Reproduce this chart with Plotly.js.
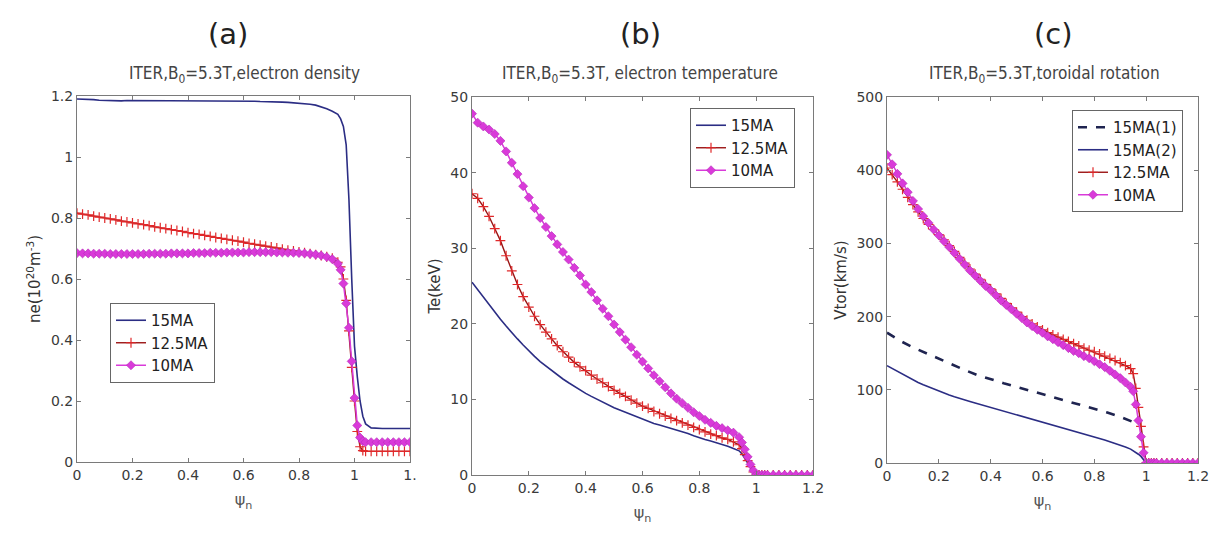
<!DOCTYPE html>
<html>
<head>
<meta charset="utf-8">
<script src="https://cdn.plot.ly/plotly-3.0.1.min.js"></script>
<style>html,body{margin:0;padding:0;background:#fff;}#chart{width:1217px;height:533px;}</style>
</head>
<body>
<div id="chart"></div>
<script>
// ---- shared normalized flux coordinate ----
const psi = [0,0.02,0.04,0.06,0.08,0.10,0.12,0.14,0.16,0.18,
             0.20,0.22,0.24,0.26,0.28,0.30,0.32,0.34,0.36,0.38,
             0.40,0.42,0.44,0.46,0.48,0.50,0.52,0.54,0.56,0.58,
             0.60,0.62,0.64,0.66,0.68,0.70,0.72,0.74,0.76,0.78,
             0.80,0.82,0.84,0.86,0.88,0.90,0.92,0.94,
             0.95,0.96,0.97,0.98,0.99,1.00,1.01,1.02,1.03,1.04,
             1.06,1.08,1.10,1.12,1.14,1.16,1.18,1.20];

// ---- (a) electron density, 10^20 m^-3 ----
const ne15 = [1.19,1.19,1.189,1.188,1.186,1.185,1.184,1.184,1.184,1.185,
              1.185,1.185,1.184,1.184,1.183,1.183,1.183,1.183,1.183,1.184,
              1.184,1.184,1.183,1.183,1.183,1.183,1.184,1.184,1.184,1.184,
              1.184,1.183,1.183,1.182,1.182,1.181,1.180,1.180,1.179,1.178,
              1.177,1.175,1.173,1.170,1.165,1.158,1.150,1.140,
              1.125,1.10,1.04,0.86,0.60,0.38,0.28,0.20,0.15,0.125,
              0.112,0.11,0.11,0.11,0.11,0.11,0.11,0.11];
const ne125 = [0.816,0.813,0.810,0.806,0.803,0.800,0.797,0.794,0.790,0.787,
               0.784,0.781,0.778,0.775,0.771,0.768,0.765,0.762,0.759,0.756,
               0.752,0.749,0.746,0.743,0.740,0.736,0.733,0.730,0.727,0.724,
               0.721,0.717,0.714,0.711,0.708,0.705,0.702,0.698,0.695,0.692,
               0.689,0.686,0.683,0.680,0.677,0.673,0.668,0.655,
               0.640,0.600,0.530,0.430,0.310,0.200,0.100,0.050,0.037,0.035,
               0.035,0.035,0.035,0.035,0.035,0.035,0.035,0.035];
const ne10 = [0.685,0.684,0.684,0.683,0.683,0.683,0.682,0.682,0.682,0.682,
              0.682,0.682,0.682,0.683,0.683,0.683,0.683,0.684,0.684,0.684,
              0.684,0.685,0.685,0.685,0.686,0.686,0.686,0.687,0.687,0.687,
              0.687,0.688,0.688,0.688,0.688,0.688,0.687,0.687,0.686,0.686,
              0.685,0.684,0.682,0.680,0.677,0.672,0.665,0.650,
              0.630,0.585,0.520,0.440,0.330,0.210,0.120,0.080,0.068,0.065,
              0.065,0.065,0.065,0.065,0.065,0.065,0.065,0.065];

// ---- (b) electron temperature, keV ----
const te15 = [25.5,24.5,23.5,22.5,21.5,20.6,19.7,18.8,18.0,17.2,
              16.4,15.7,15.0,14.4,13.8,13.2,12.7,12.2,11.7,11.2,
              10.8,10.4,10.0,9.6,9.2,8.9,8.6,8.3,8.0,7.7,
              7.3,7.1,6.8,6.6,6.4,6.2,6.0,5.7,5.5,5.2,
              4.9,4.7,4.5,4.3,4.0,3.8,3.5,3.2,
              2.8,2.2,1.6,1.0,0.4,0,0,0,0,0,
              0,0,0,0,0,0,0,0];
const te125 = [37.2,36.6,35.5,34.2,32.6,31.0,29.0,27.0,25.2,23.6,
               22.2,21.0,19.9,18.9,18.0,17.1,16.3,15.6,14.9,14.3,
               13.8,13.2,12.7,12.2,11.7,11.2,10.8,10.4,9.9,9.5,
               9.1,8.8,8.4,8.1,7.8,7.5,7.2,6.9,6.6,6.3,
               6.0,5.7,5.4,5.2,4.9,4.7,4.4,4.0,
               3.5,2.7,1.9,1.1,0.4,0,0,0,0,0,
               0,0,0,0,0,0,0,0];
const te10 = [47.8,46.6,46.1,45.7,45.1,44.2,42.8,41.3,39.8,38.2,
              36.7,35.3,34.0,32.8,31.6,30.5,29.5,28.5,27.4,26.4,
              25.2,24.2,23.1,22.0,21.0,19.9,18.9,17.9,16.9,15.9,
              15.0,14.1,13.2,12.4,11.6,10.8,10.1,9.5,8.9,8.3,
              7.8,7.3,6.9,6.5,6.2,5.9,5.6,5.0,
              4.3,3.4,2.4,1.4,0.6,0,0,0,0,0,
              0,0,0,0,0,0,0,0];

// ---- (c) toroidal rotation, km/s ----
const psiDash = [0,0.05,0.10,0.15,0.20,0.25,0.30,0.35,0.40,0.45,
                 0.50,0.55,0.60,0.65,0.70,0.75,0.80,0.85,0.90,0.95];
const v15a = [178,167,158,150,142,134,127,120,114,109,
              104,99,95,90,85,80,75,69,63,56];
const v15b = [133,129,125,121,117,113,110,107,104,101,
              98,95.5,93,90.5,88,86,84,82,80,78,
              76,74,72,70,68,66,64,62,60,58,
              56.5,54.5,52.5,50.5,48.5,46.5,44.5,42.5,40.5,38.5,
              36.5,34,31.5,29,27,24.5,22,19,
              17,15,12,9,5,0,0,0,0,0,
              0,0,0,0,0,0,0,0];
const v125 = [403,394,384,374,363,353,343,334,326,319,
              312,305,297,289,281,273,265,258,251,244,
              238,231,225,218,212,206,200,195,190,186,
              182,178,175,172,169,166,163,160,157,154,
              152,149,146,143,140,137,133,129,
              122,102,76,50,22,0,0,0,0,0,
              0,0,0,0,0,0,0,0];
const v10 = [421,408,395,382,370,358,347,337,328,319,
             311,303,295,287,279,271,263,256,249,242,
             236,229,222,216,210,204,198,192,187,182,
             178,173,169,165,161,157,153,150,146,143,
             139,135,131,126,121,116,110,104,
             98,80,58,36,14,0,0,0,0,0,
             0,0,0,0,0,0,0,0];

// ---- labels ----
const panelLabels = ['(a)','(b)','(c)'];
const subTitles = ['ITER,B<sub>0</sub>=5.3T,electron density',
                   'ITER,B<sub>0</sub>=5.3T, electron temperature',
                   'ITER,B<sub>0</sub>=5.3T,toroidal rotation'];
const yTitles = ['ne(10<sup>20</sup>m<sup>-3</sup>)','Te(keV)','Vtor(km/s)'];
const xTicksA = [0,0.2,0.4,0.6,0.8,1,1.2];
const xTickTextA = ['0','0.2','0.4','0.6','0.8','1','1.'];
const xTicks = [0,0.2,0.4,0.6,0.8,1,1.2];
const xTickText = ['0','0.2','0.4','0.6','0.8','1','1.2'];

// ---- styles ----
const BLUE = '#2b2d84', NAVY = '#1f2450';
const REDL = '#9a1414', REDM = '#e0282a';
const MAG = '#d93ad9', MAGE = '#b52ab8';

function s15(x, y, xa, ya, lg, name, show) {
  return {x:x, y:y, xaxis:xa, yaxis:ya, legend:lg, name:name, showlegend:show,
          mode:'lines', line:{color:BLUE, width:1.6}};
}
function s125(x, y, xa, ya, lg) {
  return {x:x, y:y, xaxis:xa, yaxis:ya, legend:lg, name:'12.5MA',
          mode:'lines+markers', line:{color:REDL, width:1.4},
          marker:{symbol:'cross-thin', size:7, line:{color:REDM, width:1.2}, color:REDM}};
}
function s10(x, y, xa, ya, lg) {
  return {x:x, y:y, xaxis:xa, yaxis:ya, legend:lg, name:'10MA',
          mode:'lines+markers', line:{color:MAG, width:1.5},
          marker:{symbol:'diamond', size:7, color:MAG, line:{color:MAGE, width:0.6}}};
}

const traces = [
  s15(psi, ne15, 'x', 'y', 'legend', '15MA', true),
  s125(psi, ne125, 'x', 'y', 'legend'),
  s10(psi, ne10, 'x', 'y', 'legend'),

  s15(psi, te15, 'x2', 'y2', 'legend2', '15MA', true),
  s125(psi, te125, 'x2', 'y2', 'legend2'),
  s10(psi, te10, 'x2', 'y2', 'legend2'),

  {x:psiDash, y:v15a, xaxis:'x3', yaxis:'y3', legend:'legend3', name:'15MA(1)',
   mode:'lines', line:{color:NAVY, width:2.6, dash:'dash'}},
  s15(psi, v15b, 'x3', 'y3', 'legend3', '15MA(2)', true),
  s125(psi, v125, 'x3', 'y3', 'legend3'),
  s10(psi, v10, 'x3', 'y3', 'legend3')
];

const FONT = 'DejaVu Sans, Open Sans, sans-serif';
const TICKFONT = {family: FONT, size: 14, color: '#3a3a3a'};

function xax(dom, anchor, tv, tt) {
  return {domain: dom, anchor: anchor, range: [0, 1.2], tickmode: 'array',
          tickvals: tv, ticktext: tt, showline: true, linecolor: '#7a7a7a', linewidth: 1,
          mirror: 'ticks', ticks: 'inside', ticklen: 4, tickcolor: '#7a7a7a',
          showgrid: false, zeroline: false, tickfont: TICKFONT,
          title: {text: 'ψ<sub>n</sub>', font: {family: FONT, size: 16, color: '#555'}, standoff: 12}};
}
function yax(dom, anchor, range, dtick, title) {
  return {domain: dom, anchor: anchor, range: range, dtick: dtick, tick0: 0,
          showline: true, linecolor: '#7a7a7a', linewidth: 1,
          mirror: 'ticks', ticks: 'inside', ticklen: 4, tickcolor: '#7a7a7a',
          showgrid: false, zeroline: false, tickfont: TICKFONT,
          title: {text: title, font: {family: FONT, size: 15, color: '#333'}, standoff: 6}};
}

const W = 1217, H = 533;
const px = v => v / W, py = v => 1 - v / H;

function legendAt(left, top) {
  return {x: px(left), y: py(top), xanchor: 'left', yanchor: 'top',
          bgcolor: '#ffffff', bordercolor: '#666', borderwidth: 1,
          font: {family: FONT, size: 15, color: '#222'}, tracegroupgap: 0,
          itemwidth: 30};
}

const annotations = [];
const labelX = [228, 640, 1053];
const subX = [244, 640, 1044];
for (let i = 0; i < 3; i++) {
  annotations.push({text: panelLabels[i], xref: 'paper', yref: 'paper',
    x: px(labelX[i]), y: py(34), xanchor: 'center', yanchor: 'middle', showarrow: false,
    font: {family: FONT, size: 29, color: '#222'}});
  annotations.push({text: subTitles[i], xref: 'paper', yref: 'paper',
    x: px(subX[i]), y: py(74), xanchor: 'center', yanchor: 'middle', showarrow: false,
    font: {family: 'DejaVu Sans Condensed, Liberation Sans Narrow, DejaVu Sans, sans-serif', size: 17, color: '#444'}});
}

const layout = {
  width: W, height: H, margin: {l: 0, r: 0, t: 0, b: 0},
  paper_bgcolor: '#fff', plot_bgcolor: '#fff', font: {family: FONT},
  xaxis:  xax([px(77), px(410)], 'y', xTicksA, xTickTextA),
  yaxis:  yax([py(462), py(96)], 'x', [0, 1.2], 0.2, yTitles[0]),
  xaxis2: xax([px(472), px(813)], 'y2', xTicks, xTickText),
  yaxis2: yax([py(475), py(97)], 'x2', [0, 50], 10, yTitles[1]),
  xaxis3: xax([px(887), px(1198)], 'y3', xTicks, xTickText),
  yaxis3: yax([py(463), py(97)], 'x3', [0, 500], 100, yTitles[2]),
  legend:  legendAt(110, 303),
  legend2: legendAt(690, 108),
  legend3: legendAt(1072, 110),
  annotations: annotations
};

Plotly.newPlot('chart', traces, layout, {staticPlot: true, displayModeBar: false});
</script>
</body>
</html>
